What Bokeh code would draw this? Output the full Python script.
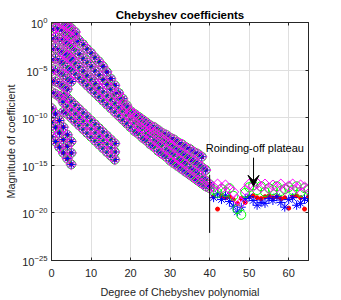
import numpy as np
from bokeh.plotting import figure
from bokeh.models import FixedTicker, LinearAxis, LogAxis, Arrow, VeeHead, Label
from bokeh.embed import file_html
from bokeh.resources import INLINE

# ---------------- data (log10 of coefficient magnitude) -------------
cloud_deg = [0, 1, 2, 3, 4, 5, 6]
cloud_1 = [0.1, 0.3, 0.2, 0.0, -0.3, -0.6, -1.0]
cloud_2 = [-0.8, -0.6, -0.7, -0.9, -1.2, -1.5, -2.0]
cloud_3 = [-1.8, -1.6, -1.8, -2.0, -2.3, -2.7]
cloud_4 = [-2.9, -2.7, -2.9, -3.2, -3.5, -3.9]
cloud_5 = [-4.0, -3.8, -4.0, -4.3, -4.7, -5.0]
cloud_6 = [-5.1, -5.0, -5.2, -5.5, -5.9, -6.2]
cloud_7 = [-6.2, -6.2, -6.4, -6.7, -7.0]
cloud_8 = [-7.3, -7.5, -7.8, -8.1]

main_1_deg = list(range(3, 39))
main_1 = [-0.2, -0.5, -0.9, -1.4, -1.9, -2.3, -2.8, -3.2, -3.7, -4.1, -4.6, -5.2, -5.9, -6.6,
          -7.4, -8.0, -8.7, -9.3, -9.6, -9.9, -10.2, -10.5, -10.8, -11.0, -11.3, -11.6, -11.8,
          -12.1, -12.3, -12.6, -12.8, -13.1, -13.3, -13.6, -13.8, -14.1]
main_2_deg = list(range(3, 40))
main_2 = [-1.6, -2.0, -2.4, -2.9, -3.3, -3.8, -4.2, -4.6, -5.1, -5.5, -6.0, -6.5, -7.0, -7.5,
          -8.0, -8.5, -9.0, -9.5, -9.9, -10.3, -10.6, -10.9, -11.3, -11.6, -11.9, -12.2, -12.5,
          -12.8, -13.1, -13.4, -13.7, -14.0, -14.3, -14.6, -14.9, -15.2, -15.5]
main_3_deg = list(range(4, 41))
main_3 = [-3.4, -3.8, -4.3, -4.7, -5.1, -5.6, -6.0, -6.4, -6.9, -7.3, -7.7, -8.1, -8.5, -8.9,
          -9.3, -9.7, -10.1, -10.5, -10.9, -11.2, -11.6, -11.9, -12.3, -12.6, -12.9, -13.3,
          -13.6, -13.9, -14.3, -14.6, -14.9, -15.3, -15.6, -15.9, -16.3, -16.6, -17.0]
main_4_deg = list(range(5, 41))
main_4 = [-5.0, -5.4, -5.8, -6.2, -6.6, -7.0, -7.4, -7.8, -8.2, -8.6, -9.0, -9.4, -9.8, -10.2,
          -10.6, -11.0, -11.4, -11.7, -12.1, -12.4, -12.8, -13.1, -13.5, -13.8, -14.1, -14.5,
          -14.8, -15.1, -15.4, -15.7, -16.0, -16.3, -16.6, -16.9, -17.2, -17.4]

second_deg = list(range(3, 17))
second_1 = [-7.6, -7.9, -8.3, -8.7, -9.1, -9.5, -9.9, -10.3, -10.7, -11.1, -11.5, -11.9, -12.3, -12.7]
second_2 = [-8.4, -8.8, -9.2, -9.6, -10.0, -10.4, -10.8, -11.2, -11.6, -12.0, -12.4, -12.8, -13.2, -13.6]
second_3 = [-9.4, -9.6, -10.0, -10.4, -10.8, -11.2, -11.6, -12.0, -12.4, -12.8, -13.2, -13.6, -14.0, -14.4]

third_deg = [0, 1, 2, 3, 4, 5]
third_1 = [-9.0, -9.6, -10.3, -11.0, -11.8, -12.5]
third_2 = [-10.5, -11.0, -11.6, -12.3, -13.0, -13.7]
third_3 = [-12.0, -12.5, -13.1, -13.7, -14.3, -14.9]

plateau_deg = list(range(41, 66))
plateau_magenta = [-17.3, -17.0, -17.4, -17.1, -17.5, -17.8, -18.6, -18.9, -17.6, -17.0, -17.2,
                   -16.9, -17.3, -17.0, -17.4, -17.1, -17.3, -17.0, -17.5, -17.2, -17.0, -17.4,
                   -17.1, -17.3, -17.5]
plateau_green = [-17.6, -17.9, -17.5, -17.8, -17.4, -18.2, -19.6, -20.2, -17.9, -17.3, -17.1,
                 -17.6, -17.2, -17.8, -17.4, -17.6, -17.2, -17.7, -17.5, -17.3, -17.6, -17.2,
                 -17.8, -17.4, -17.6]
plateau_blue = [-18.4, -18.0, -18.6, -18.2, -18.8, -19.3, -19.9, -19.4, -18.5, -18.3, -18.7,
                -19.2, -18.9, -19.0, -18.5, -18.7, -18.3, -18.9, -19.4, -18.6, -18.4, -19.2,
                -19.0, -18.5, -18.7]
plateau_red = [-18.3, -19.6, -18.2, -18.4, -18.3, -18.6, -19.0, -18.5, -18.9, -18.3, -18.2,
               -18.4, -18.5, -18.3, -18.2, -18.4, -18.3, -18.5, -18.4, -19.5, -18.3, -18.2,
               -18.4, -19.6, -18.3]

x_ticks = [0, 10, 20, 30, 40, 50, 60]
y_tick_exps = [-25, -20, -15, -10, -5, 0]

title_text = "Chebyshev coefficients"
xlabel_text = "Degree of Chebyshev polynomial"
ylabel_text = "Magnitude of coefficient"

note_text = "Roinding-off plateau"
note_pos = (39.0, -13.15)
arrow_x = 51.1
arrow_from, arrow_to = -14.2, -17.2
vline_x = 40
vline_from, vline_to = -16.0, -22.1

# ---------------- assemble ---------------------------------------------------------------
curves = [
    (cloud_deg, cloud_1), (cloud_deg, cloud_2), (cloud_deg, cloud_3), (cloud_deg, cloud_4),
    (cloud_deg, cloud_5), (cloud_deg, cloud_6), (cloud_deg, cloud_7), (cloud_deg, cloud_8),
    (main_1_deg, main_1), (main_2_deg, main_2), (main_3_deg, main_3), (main_4_deg, main_4),
    (second_deg, second_1), (second_deg, second_2), (second_deg, second_3),
    (third_deg, third_1), (third_deg, third_2), (third_deg, third_3),
]
bx, by = [], []
for d, v in curves:
    n = len(v)
    bx += list(d[:n])
    by += [10.0 ** e for e in v]

def series(extra):
    return bx + plateau_deg, by + [10.0 ** e for e in extra]

FONT = "Liberation Sans"
AX = "#262626"

p = figure(width=341, height=300, y_axis_type="log", x_range=(0, 65), y_range=(1e-25, 1e0),
           output_backend="svg", toolbar_location=None,
           min_border_left=51, min_border_right=33, min_border_top=22, min_border_bottom=40)
p.title.text = title_text
p.title.align = "center"
p.title.text_font = FONT
p.title.text_font_size = "11.5px"
p.title.text_font_style = "bold"
p.title.text_color = "black"
p.title.standoff = 4
p.title.offset = 0

p.outline_line_color = AX
p.outline_line_alpha = 1
p.outline_line_width = 1

xt = FixedTicker(ticks=x_ticks)
yt = FixedTicker(ticks=[10.0 ** e for e in y_tick_exps])
p.xaxis.ticker = xt
p.yaxis.ticker = yt
p.xgrid.ticker = xt
p.ygrid.ticker = yt
for g in (p.xgrid, p.ygrid):
    g.grid_line_color = "#dfdfdf"
    g.grid_line_width = 1

for ax in (p.xaxis, p.yaxis):
    ax.axis_line_color = AX
    ax.major_tick_line_color = AX
    ax.major_tick_in = 3
    ax.major_tick_out = 0
    ax.minor_tick_line_color = None
    ax.major_label_text_font = FONT
    ax.major_label_text_font_size = "11px"
    ax.major_label_text_color = AX
    ax.axis_label_text_font = FONT
    ax.axis_label_text_font_size = "10.8px"
    ax.axis_label_text_font_style = "normal"
    ax.axis_label_text_color = AX
p.xaxis.axis_label = xlabel_text
p.yaxis.axis_label = ylabel_text
p.xaxis.major_label_standoff = 8
p.yaxis.major_label_standoff = 4
p.xaxis.axis_label_standoff = 6
p.yaxis.axis_label_standoff = 2

top = LinearAxis(ticker=xt, major_label_text_font_size="1px", major_label_text_color=None,
                 major_tick_in=3, major_tick_out=0,
                 minor_tick_line_color=None, axis_line_color=AX, major_tick_line_color=AX,
                 major_label_standoff=0)
right = LogAxis(ticker=yt, major_label_text_font_size="1px", major_label_text_color=None,
                major_tick_in=3, major_tick_out=0,
                minor_tick_line_color=None, axis_line_color=AX, major_tick_line_color=AX,
                major_label_standoff=0)
p.add_layout(top, "above")
p.add_layout(right, "right")

rx, ry = series(plateau_red)
p.scatter(rx, ry, marker="circle", size=4, fill_color="#ff0000", line_color="#ff0000")
ux, uy = series(plateau_blue)
p.scatter(ux, uy, marker="asterisk", size=9, line_color="#0000ff", line_width=1)
gx, gy = series(plateau_green)
p.scatter(gx, gy, marker="circle", size=9, fill_color=None, line_color="#00ff00", line_width=1)
mx, my = series(plateau_magenta)
p.scatter(mx, my, marker="square", angle=np.pi / 4, size=7.5, fill_color=None,
          line_color="#ff00ff", line_width=1)

p.segment(x0=[vline_x], y0=[10.0 ** vline_from], x1=[vline_x], y1=[10.0 ** vline_to],
          line_color="black", line_width=1)
p.add_layout(Arrow(end=VeeHead(size=11, fill_color="black", line_color="black"),
                   x_start=arrow_x, y_start=10.0 ** arrow_from,
                   x_end=arrow_x, y_end=10.0 ** arrow_to, line_color="black", line_width=1))
p.add_layout(Label(x=note_pos[0], y=10.0 ** note_pos[1], text=note_text, text_font=FONT,
                   text_font_size="11px", text_color="black", text_baseline="middle"))

open("out.html", "w").write(file_html(p, INLINE))
